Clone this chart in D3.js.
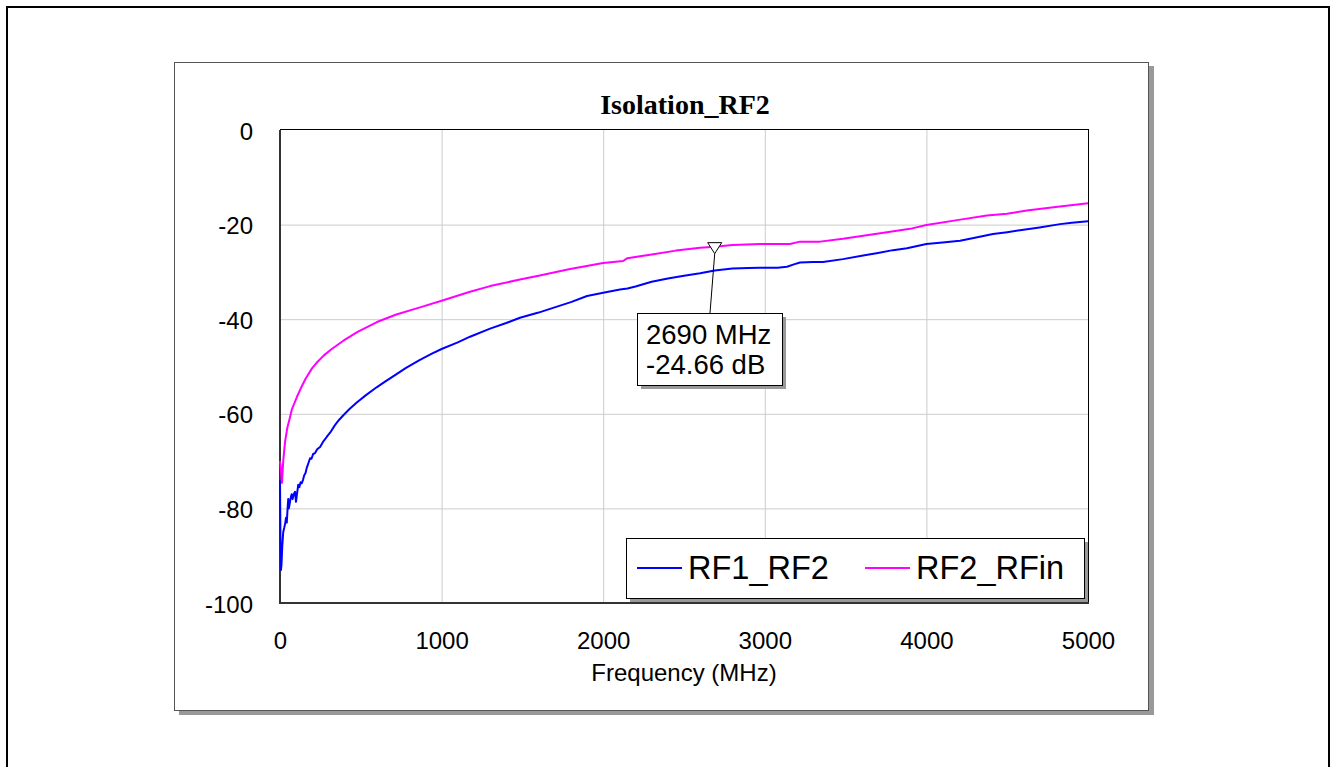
<!DOCTYPE html>
<html>
<head>
<meta charset="utf-8">
<title>Isolation_RF2</title>
<script src="https://d3js.org/d3.v7.min.js"></script>
<style>
  body { margin: 0; background: #fff; }
  svg { display: block; }
  .tick-label { font-family: "Liberation Sans", Arial, sans-serif; font-size: 24px; fill: #000; }
  .grid line { stroke: #cccccc; stroke-width: 1; }
</style>
</head>
<body>
<div id="chart"></div>
<script>
// RF1_RF2 (blue)
var freqRF1RF2 = [0, 3, 6, 9, 14, 20, 27, 33, 37, 42, 47, 51, 55, 60, 65, 72, 78, 85, 93, 99,
  105, 113, 120, 127, 134, 142, 150, 158, 165, 175, 186, 195, 205, 217, 230, 248, 265, 289, 310, 340,
  365, 392, 430, 475, 530, 598, 650, 700, 780, 866, 940, 1000, 1100, 1176, 1300, 1400, 1485, 1600, 1690, 1800,
  1900, 2000, 2104, 2150, 2200, 2300, 2400, 2500, 2600, 2690, 2800, 2900, 2970, 3080, 3137, 3180, 3218, 3300, 3360, 3484,
  3600, 3700, 3793, 3880, 4000, 4100, 4208, 4300, 4412, 4500, 4579, 4700, 4827, 4900, 5000];
var valRF1RF2 = [-74, -88, -93, -92, -88, -85, -84, -83, -82, -83, -80, -78, -80, -79, -78, -77, -78, -77, -76.5, -78.6,
  -77, -75, -75.5, -74.5, -74.7, -74, -73, -72.5, -71.5, -70.5, -69.4, -69.5, -68.5, -68.3, -67.5, -67, -66, -64.9, -64, -62.4,
  -61.3, -60.3, -59.0, -57.6, -56.1, -54.4, -53.2, -52.1, -50.3, -48.6, -47.3, -46.3, -44.9, -43.7, -42, -40.8, -39.7, -38.6, -37.6, -36.4,
  -35.1, -34.4, -33.7, -33.5, -33.1, -32.1, -31.4, -30.8, -30.3, -29.7, -29.3, -29.2, -29.1, -29.1, -28.9, -28.4, -28, -27.9, -27.9, -27.3,
  -26.6, -26, -25.4, -25, -24.1, -23.8, -23.4, -22.8, -22, -21.6, -21.2, -20.6, -19.9, -19.6, -19.3];

// RF2_RFin (magenta)
var freqRF2RFin = [0, 6, 12, 20, 31, 45, 60, 74, 90, 105, 130, 160, 198, 230, 270, 320, 390, 480, 600, 720,
  866, 1000, 1176, 1300, 1485, 1600, 1795, 2000, 2123, 2150, 2300, 2450, 2600, 2690, 2800, 2970, 3156, 3218, 3342, 3484,
  3620, 3756, 3899, 4000, 4200, 4375, 4499, 4622, 4800, 5000];
var valRF2RFin = [-70, -72, -74.6, -70, -66, -63, -61, -59, -57.7, -56.4, -54.5, -52.5, -50.4, -49.1, -47.7, -46.3, -44.6, -42.7, -40.6, -39.0,
  -37.5, -36.1, -34.2, -33, -31.6, -30.8, -29.4, -28.1, -27.7, -27.1, -26.3, -25.5, -24.9, -24.66, -24.3, -24.1, -24.1, -23.6, -23.6, -23,
  -22.3, -21.6, -20.9, -20.1, -19, -18.1, -17.7, -17, -16.3, -15.5];

var xTicks = [0, 1000, 2000, 3000, 4000, 5000];
var yTicks = [0, -20, -40, -60, -80, -100];
var seriesNames = ["RF1_RF2", "RF2_RFin"];
var seriesColors = ["#0000ff", "#ff00ff"];
var markerFreq = 2690;
var markerVal = -24.66;

var W = 1334, H = 767;
var plot = { left: 280, top: 130, right: 1088, bottom: 603 };

var svg = d3.select("#chart").append("svg")
    .attr("width", W)
    .attr("height", H);

// outer frame
svg.append("rect")
    .attr("x", 7).attr("y", 7)
    .attr("width", 1322).attr("height", 800)
    .attr("fill", "none").attr("stroke", "#000").attr("stroke-width", 2);

// chart panel with shadow
svg.append("rect")
    .attr("x", 179).attr("y", 66)
    .attr("width", 975).attr("height", 649)
    .attr("fill", "#999");
svg.append("rect")
    .attr("x", 174.5).attr("y", 62.5)
    .attr("width", 974).attr("height", 648)
    .attr("fill", "#fff").attr("stroke", "#555").attr("stroke-width", 1);

var x = d3.scaleLinear().domain([0, 5000]).range([plot.left, plot.right]);
var y = d3.scaleLinear().domain([-100, 0]).range([plot.bottom, plot.top]);

// grid
var grid = svg.append("g").attr("class", "grid");
grid.selectAll(".vx").data(xTicks.slice(1, -1)).enter().append("line")
    .attr("x1", d => x(d) + 0.5).attr("x2", d => x(d) + 0.5)
    .attr("y1", plot.top).attr("y2", plot.bottom);
grid.selectAll(".hy").data(yTicks.slice(1, -1)).enter().append("line")
    .attr("y1", d => y(d) + 0.5).attr("y2", d => y(d) + 0.5)
    .attr("x1", plot.left).attr("x2", plot.right);

// plot frame
svg.append("line").attr("x1", plot.left).attr("x2", plot.right + 1)
    .attr("y1", plot.top - 0.5).attr("y2", plot.top - 0.5)
    .attr("stroke", "#000").attr("stroke-width", 1);
svg.append("line").attr("x1", plot.right + 0.5).attr("x2", plot.right + 0.5)
    .attr("y1", plot.top).attr("y2", plot.bottom)
    .attr("stroke", "#000").attr("stroke-width", 1);

// axes (labels only, no tick marks)
var fmt = d => String(d);
var xAxis = d3.axisBottom(x).tickValues(xTicks).tickFormat(fmt).tickSize(0).tickPadding(0);
var gx = svg.append("g").attr("transform", "translate(0," + plot.bottom + ")").call(xAxis);
gx.select(".domain").remove();
gx.selectAll("text").attr("class", "tick-label").attr("dy", null).attr("y", 46);

var yAxis = d3.axisLeft(y).tickValues(yTicks).tickFormat(fmt).tickSize(0).tickPadding(0);
var gy = svg.append("g").attr("transform", "translate(" + (plot.left - 27) + ",0)").call(yAxis);
gy.select(".domain").remove();
gy.selectAll("text").attr("class", "tick-label").attr("dy", null).attr("x", 0).attr("y", 9);

svg.append("line").attr("x1", plot.left).attr("x2", plot.left)
    .attr("y1", plot.top).attr("y2", plot.bottom + 1)
    .attr("stroke", "#333").attr("stroke-width", 2);
svg.append("line").attr("x1", plot.left - 1).attr("x2", plot.right + 1)
    .attr("y1", plot.bottom).attr("y2", plot.bottom)
    .attr("stroke", "#333").attr("stroke-width", 2);

// curves
var line = d3.line().x(d => x(d[0])).y(d => y(d[1]));
var seriesData = [
  d3.zip(freqRF1RF2, valRF1RF2),
  d3.zip(freqRF2RFin, valRF2RFin)
];
svg.selectAll(".curve").data(seriesData).enter().append("path")
    .attr("class", "curve")
    .attr("d", line)
    .attr("fill", "none")
    .attr("stroke", (d, i) => seriesColors[i])
    .attr("stroke-width", 2)
    .attr("stroke-linejoin", "round");

// title and axis label
svg.append("text")
    .attr("x", 685).attr("y", 114)
    .attr("text-anchor", "middle")
    .style("font-family", "'Liberation Serif', 'Times New Roman', serif")
    .style("font-weight", "bold").style("font-size", "28px")
    .text("Isolation_RF2");
svg.append("text")
    .attr("x", 684).attr("y", 681)
    .attr("text-anchor", "middle")
    .attr("class", "tick-label")
    .text("Frequency (MHz)");

// marker
var mx = x(markerFreq), my = y(markerVal);
var boxL = 637, boxT = 313, boxW = 145, boxH = 72;
svg.append("line")
    .attr("x1", mx).attr("y1", my + 7)
    .attr("x2", 710).attr("y2", boxT)
    .attr("stroke", "#000").attr("stroke-width", 1);
svg.append("path")
    .attr("d", "M" + (mx - 7) + "," + (my - 4) + "L" + (mx + 7) + "," + (my - 4) + "L" + mx + "," + (my + 7) + "Z")
    .attr("fill", "#fff").attr("stroke", "#000").attr("stroke-width", 1);
svg.append("rect").attr("x", boxL + 4).attr("y", boxT + 4)
    .attr("width", boxW).attr("height", boxH).attr("fill", "#999");
svg.append("rect").attr("x", boxL + 0.5).attr("y", boxT + 0.5)
    .attr("width", boxW).attr("height", boxH)
    .attr("fill", "#fff").attr("stroke", "#000").attr("stroke-width", 1);
var mt = svg.append("g")
    .style("font-family", "'Liberation Sans', Arial, sans-serif")
    .style("font-size", "27.5px");
mt.append("text").attr("x", boxL + 9).attr("y", boxT + 31).text(markerFreq + " MHz");
mt.append("text").attr("x", boxL + 9).attr("y", boxT + 61).text(markerVal.toFixed(2) + " dB");

// legend
var lg = { x: 626, y: 538, w: 458, h: 60 };
svg.append("rect").attr("x", lg.x + 4).attr("y", lg.y + 4)
    .attr("width", lg.w).attr("height", lg.h).attr("fill", "#999");
svg.append("rect").attr("x", lg.x + 0.5).attr("y", lg.y + 0.5)
    .attr("width", lg.w).attr("height", lg.h)
    .attr("fill", "#fff").attr("stroke", "#000").attr("stroke-width", 1);
var legendX = [637, 865];
var items = svg.selectAll(".legend-item").data(seriesNames).enter().append("g")
    .attr("class", "legend-item")
    .attr("transform", (d, i) => "translate(" + legendX[i] + "," + (lg.y + 30) + ")");
items.append("line")
    .attr("x1", 0).attr("x2", 45).attr("y1", 0).attr("y2", 0)
    .attr("stroke", (d, i) => seriesColors[i]).attr("stroke-width", 2);
items.append("text")
    .attr("x", 51).attr("y", 11)
    .style("font-family", "'Liberation Sans', Arial, sans-serif")
    .style("font-size", "32.5px")
    .text(d => d);
</script>
</body>
</html>
